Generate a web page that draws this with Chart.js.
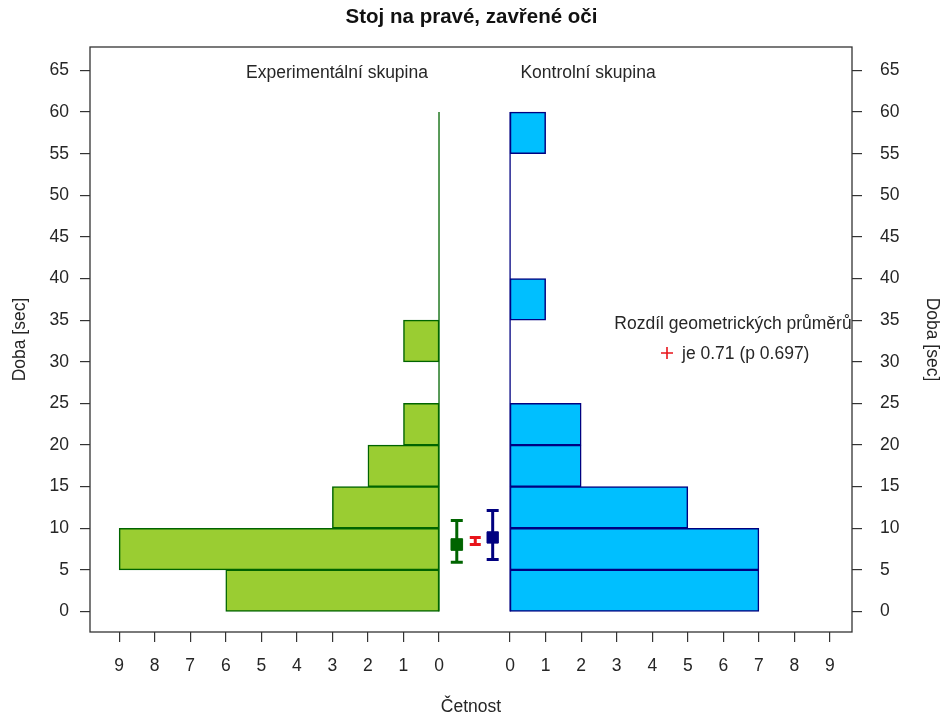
<!DOCTYPE html>
<html>
<head>
<meta charset="utf-8">
<script src="https://cdn.jsdelivr.net/npm/chart.js@4"></script>
<style>
  body { margin: 0; background: #fff; }
  #wrap { width: 943px; height: 716px; }
</style>
</head>
<body>
<div id="wrap"><canvas id="histChart"></canvas></div>
<script>
// --- data ---
const binStarts = [0, 5, 10, 15, 20, 25, 30, 35, 40, 45, 50, 55];
const binWidth = 5;
const expCounts = [6, 9, 3, 2, 1, 0, 1, 0, 0, 0, 0, 0];   // Experimentální skupina
const ctrlCounts = [7, 7, 5, 2, 2, 0, 0, 1, 0, 0, 0, 1];  // Kontrolní skupina
const yTicks = [0, 5, 10, 15, 20, 25, 30, 35, 40, 45, 50, 55, 60, 65];
const countTicks = [0, 1, 2, 3, 4, 5, 6, 7, 8, 9];

// geometric means with their intervals: [mean, low, high]
const expMean = [8.05, 5.93, 10.94];
const ctrlMean = [8.9, 6.25, 12.14];
const diffRange = [8.05, 8.9];

// left half: count c sits at -(c+1), right half: c sits at c+1
const leftPos = c => -(c + 1);
const rightPos = c => c + 1;

const GREEN_FILL = '#9ACD32', GREEN_LINE = '#006400';
const BLUE_FILL = '#00BFFF', BLUE_LINE = '#000080';
const TEXT = '#262626';
const FONT = "'Liberation Sans', Arial, sans-serif";
const FS = 17.5;

function barsFrom(counts, side) {
    const out = [];
    for (let i = 0; i < counts.length; i++) {
        if (counts[i] > 0) {
            const p = side === 'left' ? leftPos : rightPos;
            out.push({ y: binStarts[i] + binWidth / 2, x: [p(0), p(counts[i])] });
        }
    }
    return out;
}

const topEdge = binStarts[binStarts.length - 1] + binWidth;

// error bars, frame and notes
const errorBars = {
    id: 'errorBars',
    beforeDatasetsDraw(chart) {
        const ctx = chart.ctx;
        const xs = chart.scales.x, ys = chart.scales.y;
        function bar(xv, lo, hi, color, cap) {
            const x = xs.getPixelForValue(xv);
            const y1 = ys.getPixelForValue(lo), y2 = ys.getPixelForValue(hi);
            ctx.save();
            ctx.strokeStyle = color;
            ctx.lineWidth = 3;
            ctx.beginPath();
            ctx.moveTo(x, y1); ctx.lineTo(x, y2);
            ctx.moveTo(x - cap, y1); ctx.lineTo(x + cap, y1);
            ctx.moveTo(x - cap, y2); ctx.lineTo(x + cap, y2);
            ctx.stroke();
            ctx.restore();
        }
        bar(-0.5, expMean[1], expMean[2], GREEN_LINE, 6);
        bar(0.51, ctrlMean[1], ctrlMean[2], BLUE_LINE, 6);
        bar(0.02, diffRange[0], diffRange[1], '#E8141B', 5.5);
    },
    afterDraw(chart) {
        const ctx = chart.ctx;
        const a = chart.chartArea;
        ctx.save();
        ctx.strokeStyle = '#333';
        ctx.lineWidth = 1.3;
        ctx.strokeRect(a.left, a.top, a.right - a.left, a.bottom - a.top);

        ctx.fillStyle = TEXT;
        ctx.font = FS + 'px ' + FONT;
        ctx.textBaseline = 'middle';
        ctx.textAlign = 'center';
        ctx.fillText('Experimentální skupina', 337, 73);
        ctx.fillText('Kontrolní skupina', 588, 73);
        ctx.fillText('Rozdíl geometrických průměrů', 733, 324);
        ctx.textAlign = 'left';
        ctx.fillText('je 0.71 (p 0.697)', 682, 354);

        // red plus sign
        ctx.strokeStyle = '#E8141B';
        ctx.lineWidth = 1.6;
        ctx.beginPath();
        ctx.moveTo(661, 353); ctx.lineTo(673, 353);
        ctx.moveTo(667, 347); ctx.lineTo(667, 359);
        ctx.stroke();
        ctx.restore();
    }
};

const yAxisCommon = {
    type: 'linear',
    min: -2.46,
    max: 67.82,
    offset: false,
    afterBuildTicks: s => { s.ticks = yTicks.map(v => ({ value: v })); },
    grid: { offset: false, drawOnChartArea: false, drawTicks: true, tickLength: 10, color: '#333', lineWidth: 1.2 },
    border: { display: false },
    ticks: { color: TEXT, font: { family: FONT, size: FS } }
};

new Chart(document.getElementById('histChart'), {
    type: 'bar',
    data: {
        datasets: [
            {
                label: 'Experimentální skupina',
                data: barsFrom(expCounts, 'left'),
                backgroundColor: GREEN_FILL,
                borderColor: GREEN_LINE,
                borderWidth: 1.5,
                borderSkipped: false,
                grouped: false,
                barPercentage: 1,
                categoryPercentage: 1
            },
            {
                label: 'Kontrolní skupina',
                data: barsFrom(ctrlCounts, 'right'),
                backgroundColor: BLUE_FILL,
                borderColor: BLUE_LINE,
                borderWidth: 1.5,
                borderSkipped: false,
                grouped: false,
                barPercentage: 1,
                categoryPercentage: 1
            },
            {
                type: 'line',
                data: [{ x: leftPos(0), y: 0 }, { x: leftPos(0), y: topEdge }],
                borderColor: GREEN_LINE,
                borderWidth: 1.3,
                pointRadius: 0
            },
            {
                type: 'line',
                data: [{ x: rightPos(0), y: 0 }, { x: rightPos(0), y: topEdge }],
                borderColor: BLUE_LINE,
                borderWidth: 1.3,
                pointRadius: 0
            },
            {
                type: 'scatter',
                data: [{ x: -0.5, y: expMean[0] }],
                pointStyle: 'rect',
                pointRadius: 8.2,
                backgroundColor: GREEN_LINE,
                borderColor: GREEN_LINE
            },
            {
                type: 'scatter',
                data: [{ x: 0.51, y: ctrlMean[0] }],
                pointStyle: 'rect',
                pointRadius: 8,
                backgroundColor: BLUE_LINE,
                borderColor: BLUE_LINE
            }
        ]
    },
    options: {
        indexAxis: 'y',
        responsive: true,
        maintainAspectRatio: false,
        animation: false,
        layout: { padding: 0 },
        plugins: {
            legend: { display: false },
            tooltip: { enabled: false },
            title: {
                display: true,
                text: 'Stoj na pravé, zavřené oči',
                color: '#111',
                font: { family: FONT, size: 20.5, weight: 'bold', lineHeight: 1.2 },
                padding: { top: 5, bottom: 17.4 }
            }
        },
        scales: {
            x: {
                type: 'linear',
                min: -10.82,
                max: 10.62,
                afterBuildTicks: s => {
                    s.ticks = countTicks.map(c => ({ value: leftPos(c) }))
                        .concat(countTicks.map(c => ({ value: rightPos(c) })));
                },
                afterFit: s => { s.height = 84; },
                grid: { drawOnChartArea: false, drawTicks: true, tickLength: 10, color: '#333', lineWidth: 1.2 },
                border: { display: false },
                ticks: {
                    color: TEXT,
                    font: { family: FONT, size: FS },
                    padding: 14,
                    maxRotation: 0,
                    autoSkip: false,
                    callback: v => String(Math.abs(v) - 1)
                },
                title: {
                    display: true,
                    text: 'Četnost',
                    color: TEXT,
                    font: { family: FONT, size: FS, lineHeight: 1 },
                    padding: { bottom: 0 }
                }
            },
            y: Object.assign({}, yAxisCommon, {
                position: 'left',
                afterFit: s => { s.width = 90; },
                ticks: Object.assign({}, yAxisCommon.ticks, { padding: 11 }),
                title: {
                    display: true,
                    text: 'Doba [sec]',
                    color: TEXT,
                    font: { family: FONT, size: FS, lineHeight: 1.2 },
                    padding: { top: 9.5 }
                }
            }),
            y2: Object.assign({}, yAxisCommon, {
                position: 'right',
                afterFit: s => { s.width = 91; },
                ticks: Object.assign({}, yAxisCommon.ticks, { padding: 18 }),
                title: {
                    display: true,
                    text: 'Doba [sec]',
                    color: TEXT,
                    font: { family: FONT, size: FS, lineHeight: 1.2 },
                    padding: { top: 0.5 }
                }
            })
        }
    },
    plugins: [errorBars]
});
</script>
</body>
</html>
